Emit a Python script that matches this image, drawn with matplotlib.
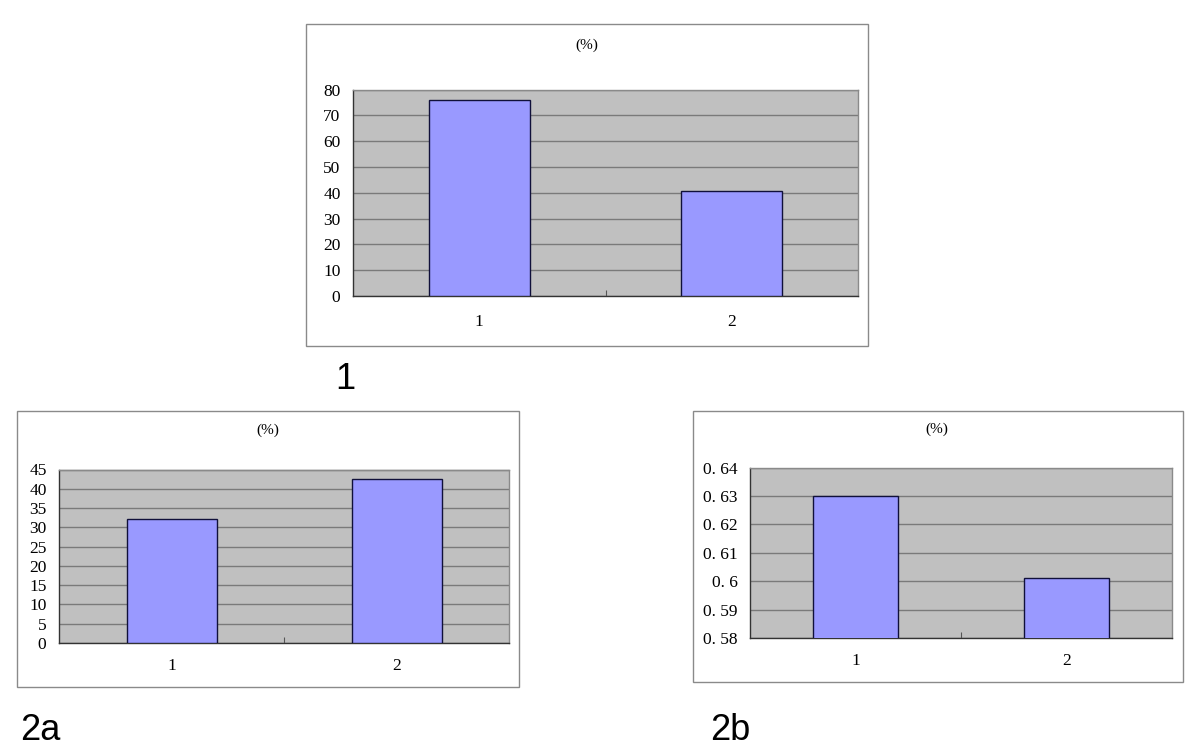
import matplotlib
matplotlib.use('Agg')
import matplotlib.pyplot as plt
from matplotlib.patches import Rectangle

# data
categories = ['1', '2']
values_1 = [75.8, 40.7]
values_2a = [32.2, 42.6]
values_2b = [0.630, 0.601]

yticks_1 = [0, 10, 20, 30, 40, 50, 60, 70, 80]
yticks_2a = [0, 5, 10, 15, 20, 25, 30, 35, 40, 45]
yticks_2b = [0.58, 0.59, 0.60, 0.61, 0.62, 0.63, 0.64]
ylabels_2b = ['0. 58', '0. 59', '0. 6', '0. 61', '0. 62', '0. 63', '0. 64']

W, H = 1200, 750
SERIF = ['Liberation Serif', 'DejaVu Serif']

fig = plt.figure(figsize=(W / 100, H / 100), dpi=100)
fig.patch.set_facecolor('white')


def frame(l, t, r, b):
    # white box with gray border around each chart
    rect = Rectangle((l / W, 1 - b / H), (r - l) / W, (b - t) / H,
                     transform=fig.transFigure, facecolor='white',
                     edgecolor='#8a8a8a', linewidth=1.0, zorder=0)
    fig.add_artist(rect)


def chart(box, vals, yticks, ylabels, ylim, title_xy, xpad):
    l, t, r, b = box
    ax = fig.add_axes([l / W, 1 - b / H, (r - l) / W, (b - t) / H])
    ax.set_facecolor('#c0c0c0')
    x = [1, 2]
    ax.bar(x, vals, width=0.4, color='#9999ff', edgecolor='#10103a',
           linewidth=1.0, zorder=3)
    ax.set_xlim(0.5, 2.5)
    ax.set_ylim(*ylim)
    ax.set_yticks(yticks)
    ax.set_yticklabels(ylabels if ylabels else [str(v) for v in yticks],
                       family=SERIF, fontsize=12.5)
    ax.yaxis.grid(True, color='#7a7a7a', linewidth=1.0, zorder=1)
    ax.set_axisbelow(True)
    ax.tick_params(axis='y', length=0, pad=9)
    ax.set_xticks(x)
    ax.set_xticklabels(categories, family=SERIF, fontsize=12.5)
    ax.tick_params(axis='x', which='major', length=0, pad=xpad)
    ax.set_xticks([1.5], minor=True)
    ax.tick_params(axis='x', which='minor', direction='in', length=4,
                   width=0.8, color='#555555')
    for s in ['top', 'right']:
        ax.spines[s].set_color('#8a8a8a')
    for s in ['left', 'bottom']:
        ax.spines[s].set_color('#333333')
    for s in ax.spines.values():
        s.set_linewidth(1.0)
    fig.text(title_xy[0] / W, 1 - title_xy[1] / H, '(%)', family=SERIF,
             fontsize=11, ha='center', va='center')
    return ax


# chart 1 (top)
frame(306, 24, 868, 346)
chart((353, 89.5, 858, 296), values_1, yticks_1, None, (0, 80), (587, 45), 13)

# chart 2a (bottom left)
frame(17, 411, 519, 687)
chart((59, 469.5, 509, 643), values_2a, yticks_2a, None, (0, 45), (268, 430), 11)

# chart 2b (bottom right)
frame(693, 411, 1183, 682)
chart((750, 467.5, 1172, 638), values_2b, yticks_2b, ylabels_2b, (0.58, 0.64), (937, 429), 11)

# panel labels
fig.text(335 / W, 1 - 389 / H, '1', family=['Liberation Sans', 'DejaVu Sans'],
         fontsize=26, ha='left', va='baseline')
fig.text(20 / W, 1 - 740 / H, '2a', family=['Liberation Sans', 'DejaVu Sans'],
         fontsize=26, ha='left', va='baseline')
fig.text(710 / W, 1 - 740 / H, '2b', family=['Liberation Sans', 'DejaVu Sans'],
         fontsize=26, ha='left', va='baseline')

plt.savefig('out.png', dpi=100)
